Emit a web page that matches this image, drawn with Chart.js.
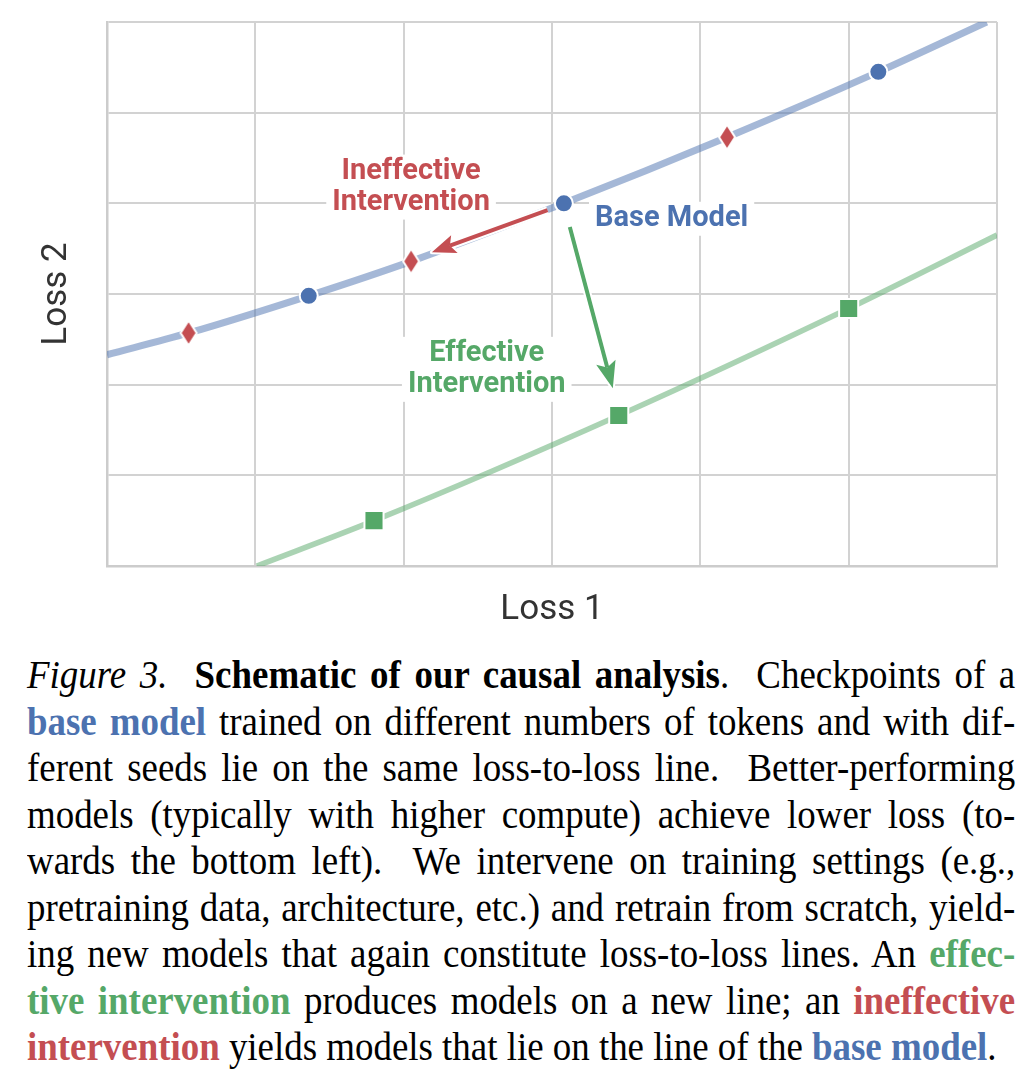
<!DOCTYPE html>
<html>
<head>
<meta charset="utf-8">
<script src="https://cdn.jsdelivr.net/npm/chart.js@4.4.1/dist/chart.umd.min.js"></script>
<style>
  body { margin: 0; background: #fff; width: 1035px; height: 1092px; overflow: hidden; position: relative; }
  #chart-box { position: absolute; left: 0; top: 0; width: 1035px; height: 640px; }
  .caption { position: absolute; left: 27px; top: 651px; width: 988px; font-family: "Liberation Serif", "Times New Roman", serif; font-size: 41px; line-height: 46.5px; color: #000; }
  .caption div { width: 1098px; transform: scaleX(0.9); transform-origin: 0 0; text-align: justify; text-align-last: justify; white-space: nowrap; }
  .caption div.last { text-align-last: left; }
  .blue { color: #4c72b0; font-weight: bold; }
  .green { color: #55a868; font-weight: bold; }
  .red { color: #c44e52; font-weight: bold; }
</style>
</head>
<body>
<div id="chart-box"><canvas id="lossChart"></canvas></div>
<div class="caption">
  <div><i>Figure 3.</i>&nbsp; <b>Schematic of our causal analysis</b>.&nbsp; Checkpoints of a</div>
  <div><span class="blue">base model</span> trained on different numbers of tokens and with dif-</div>
  <div>ferent seeds lie on the same loss-to-loss line.&nbsp; Better-performing</div>
  <div>models (typically with higher compute) achieve lower loss (to-</div>
  <div>wards the bottom left).&nbsp; We intervene on training settings (e.g.,</div>
  <div>pretraining data, architecture, etc.) and retrain from scratch, yield-</div>
  <div>ing new models that again constitute loss-to-loss lines. An <span class="green">effec-</span></div>
  <div><span class="green">tive intervention</span> produces models on a new line; an <span class="red">ineffective</span></div>
  <div class="last"><span class="red">intervention</span> yields models that lie on the line of the <span class="blue">base model</span>.</div>
</div>
<script>
// loss-to-loss lines (axis units 0..6)
const baseLineX = [0, 0.55, 1.36, 2.05, 3.08, 4.18, 5.20, 5.93];
const baseLineY = [2.33, 2.57, 2.98, 3.36, 4.0, 4.73, 5.45, 6.0];
const effLineX = [1.01, 1.8, 3.45, 5.0, 6.0];
const effLineY = [0, 0.5, 1.66, 2.84, 3.65];

// checkpoints
const baseModelX = [1.36, 3.08, 5.20];
const baseModelY = [2.98, 4.0, 5.45];
const ineffX = [0.55, 2.05, 4.18];
const ineffY = [2.57, 3.36, 4.73];
const effX = [1.8, 3.45, 5.0];
const effY = [0.5, 1.66, 2.84];

// arrows: [x0, y0, x1, y1]
const ineffArrow = [2.97, 3.925, 2.19, 3.46];
const effArrow = [3.12, 3.74, 3.41, 1.96];

const BLUE = "#4c72b0";
const RED = "#c44e52";
const GREEN = "#55a868";

function toPoints(xs, ys) {
  return xs.map((x, i) => ({ x: x, y: ys[i] }));
}

// thin diamond marker
function makeDiamond() {
  const c = document.createElement("canvas");
  c.width = 20;
  c.height = 28;
  const g = c.getContext("2d");
  g.beginPath();
  g.moveTo(10, 1.5);
  g.lineTo(18, 14);
  g.lineTo(10, 26.5);
  g.lineTo(2, 14);
  g.closePath();
  g.fillStyle = RED;
  g.fill();
  g.lineWidth = 2;
  g.strokeStyle = "#fff";
  g.stroke();
  return c;
}

function drawArrow(ctx, x0, y0, x1, y1, color, lw, headLen, headW) {
  const ang = Math.atan2(y1 - y0, x1 - x0);
  const cos = Math.cos(ang), sin = Math.sin(ang);
  const bx = x1 - cos * headLen, by = y1 - sin * headLen;
  const nx = x1 - cos * headLen * 0.8, ny = y1 - sin * headLen * 0.8;
  const px = -sin * headW / 2, py = cos * headW / 2;
  const head = () => {
    ctx.beginPath();
    ctx.moveTo(x1, y1);
    ctx.lineTo(bx + px, by + py);
    ctx.lineTo(nx, ny);
    ctx.lineTo(bx - px, by - py);
    ctx.closePath();
  };
  ctx.save();
  ctx.lineCap = "butt";
  // white halo
  ctx.strokeStyle = "#fff";
  ctx.lineWidth = lw + 4;
  ctx.beginPath();
  ctx.moveTo(x0, y0);
  ctx.lineTo(nx, ny);
  ctx.stroke();
  head();
  ctx.lineWidth = 4;
  ctx.lineJoin = "round";
  ctx.stroke();
  // arrow
  ctx.strokeStyle = color;
  ctx.lineWidth = lw;
  ctx.beginPath();
  ctx.moveTo(x0, y0);
  ctx.lineTo(nx, ny);
  ctx.stroke();
  head();
  ctx.fillStyle = color;
  ctx.fill();
  ctx.restore();
}

function drawLabel(ctx, lines, x, y, align, color) {
  ctx.save();
  ctx.font = "bold 29px Roboto";
  ctx.textBaseline = "middle";
  ctx.textAlign = align;
  const lh = 31;
  const w = Math.max(...lines.map((t) => ctx.measureText(t).width));
  const left = align === "center" ? x - w / 2 : x;
  ctx.fillStyle = "#fff";
  ctx.fillRect(left - 6, y - 17, w + 12, lh * (lines.length - 1) + 34);
  ctx.fillStyle = color;
  lines.forEach((t, i) => ctx.fillText(t, x, y + i * lh));
  ctx.restore();
}

const annotations = {
  id: "annotations",
  beforeDatasetsDraw(chart) {
    const { ctx, scales } = chart;
    const sx = scales.x, sy = scales.y;
    drawLabel(ctx, ["Ineffective", "Intervention"], sx.getPixelForValue(2.05), sy.getPixelForValue(4.35), "center", RED);
    drawLabel(ctx, ["Effective", "Intervention"], sx.getPixelForValue(2.56), sy.getPixelForValue(2.34), "center", GREEN);
    drawLabel(ctx, ["Base Model"], sx.getPixelForValue(3.29), sy.getPixelForValue(3.83), "left", BLUE);
  },
  afterDatasetsDraw(chart) {
    const { ctx, scales } = chart;
    const sx = scales.x, sy = scales.y;
    const px = (a) => [sx.getPixelForValue(a[0]), sy.getPixelForValue(a[1]), sx.getPixelForValue(a[2]), sy.getPixelForValue(a[3])];
    drawArrow(ctx, ...px(ineffArrow), RED, 4, 24, 19);
    drawArrow(ctx, ...px(effArrow), GREEN, 4, 27, 20);
  },
};

const gridOpts = { color: "#d2d2d2", lineWidth: 2, drawTicks: false };
const borderOpts = { display: true, color: "#cccccc", width: 2.5 };

new Chart(document.getElementById("lossChart").getContext("2d"), {
  type: "line",
  data: {
    datasets: [
      {
        data: toPoints(baseModelX, baseModelY),
        showLine: false,
        pointStyle: "circle",
        pointRadius: 9,
        pointBackgroundColor: BLUE,
        pointBorderColor: "#fff",
        pointBorderWidth: 2,
        order: 1,
      },
      {
        data: toPoints(ineffX, ineffY),
        showLine: false,
        pointStyle: makeDiamond(),
        pointRadius: 10,
        order: 1,
      },
      {
        data: toPoints(effX, effY),
        showLine: false,
        pointStyle: "rect",
        pointRadius: 13.5,
        pointBackgroundColor: GREEN,
        pointBorderColor: "#fff",
        pointBorderWidth: 2,
        order: 1,
      },
      {
        data: toPoints(baseLineX, baseLineY),
        borderColor: "rgba(76,114,176,0.5)",
        borderWidth: 7,
        pointRadius: 0,
        cubicInterpolationMode: "monotone",
        clip: 0,
        order: 2,
      },
      {
        data: toPoints(effLineX, effLineY),
        borderColor: "rgba(85,168,104,0.5)",
        borderWidth: 5.5,
        pointRadius: 0,
        cubicInterpolationMode: "monotone",
        clip: 0,
        order: 2,
      },
    ],
  },
  options: {
    responsive: true,
    maintainAspectRatio: false,
    animation: false,
    layout: { padding: { left: 15, top: 22, right: 38, bottom: 0 } },
    plugins: { legend: { display: false }, tooltip: { enabled: false } },
    scales: {
      x: {
        type: "linear",
        min: 0,
        max: 6,
        ticks: { display: false, stepSize: 1 },
        grid: gridOpts,
        border: borderOpts,
        title: {
          display: true,
          text: "Loss 1",
          color: "#333",
          font: { family: "Roboto", size: 35 },
          padding: { top: 23, bottom: 9 },
        },
      },
      y: {
        type: "linear",
        min: 0,
        max: 6,
        ticks: { display: false, stepSize: 1 },
        grid: gridOpts,
        border: borderOpts,
        title: {
          display: true,
          text: "Loss 2",
          color: "#333",
          font: { family: "Roboto", size: 35 },
          padding: { top: 21.5, bottom: 28.5 },
        },
      },
    },
  },
  plugins: [annotations],
});
</script>
</body>
</html>
